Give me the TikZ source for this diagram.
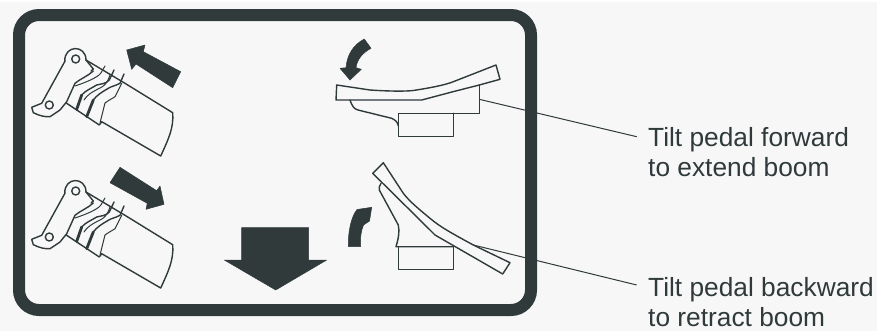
\documentclass[tikz,border=0pt]{standalone}
\usepackage{fontspec}
\setmainfont{Liberation Sans}
\definecolor{ink}{HTML}{303A3B}
\definecolor{paper}{HTML}{F7F7F7}
\tikzset{
  frame/.style={draw=ink,line width=12pt,rounded corners=20pt},
  solidarrow/.style={fill=ink,draw=ink,line width=0.5pt,line join=round},
  outline/.style={draw=ink,line width=1.4pt,line join=round,line cap=round},
  fine/.style={draw=ink,line width=1pt,line join=round,line cap=round},
  thick line/.style={draw=ink,line width=2.8pt,line cap=round},
  leader/.style={draw=ink,line width=1pt},
  caption/.style={anchor=north west,align=left,inner sep=0pt,text=ink,font=\fontsize{26.3}{30}\selectfont},
  pics/boom/.style={code={
    % bracket
    \draw[outline] (49.3,105) circle (4);
    \draw[outline] (75.7,59) circle (4);
    \draw[outline] (86,60) .. controls (86,44.5) and (64,44.5) .. (64.8,61.5);
    \draw[outline] (64.8,61.5) -- (41.7,103.3) -- (31.7,107.3) -- (33.3,112.7)
       .. controls (40,116) and (45,117) .. (50,116.7) -- (60,110) -- (66.7,101.7) -- (75,83.3)
       .. controls (80,79) and (88,76) .. (93.3,71);
    \draw[outline] (86,60) -- (93.3,69) -- (91,71);
    \draw[outline] (86,60) -- (125,83.3) -- (172.7,112.7)
       .. controls (174,128) and (168,140) .. (160.7,156) -- (101.7,121.7) -- (99.3,125) -- (66.7,103.3);
    % bellows
    \draw[fine] (105,66) -- (100.7,73.3) .. controls (97,78) and (84,83) .. (75,86);
    \draw[outline] (114,70) -- (109.3,80) .. controls (106,84) and (100,84) .. (96.7,85)
       .. controls (90,89) and (85,91) .. (81.7,95);
    \draw[thick line] (81.7,95) -- (76.7,109.3);
    \draw[outline] (124,74) -- (120,83.3) .. controls (115,86) and (112,86) .. (108.3,88.3)
       .. controls (102,92) and (97,95) .. (93.3,100);
    \draw[thick line] (93.3,100) -- (86.7,116.7);
    \draw[fine] (110,75) .. controls (107,84) and (104,86) .. (100,88)
       .. controls (92,92) and (87,95) .. (84,100);
    \draw[fine] (121.7,83.3) -- (115,96.7) .. controls (110,100) and (107,101) .. (105,103) -- (100,123);
  }}
}
\begin{document}
\begin{tikzpicture}[x=1pt,y=-1pt]
  \useasboundingbox (0,0) rectangle (877,333);
  \fill[white] (0,0) rectangle (877,333);
  \fill[paper] (0,2) rectangle (877,331);

  % leader lines (behind the frame)
  \coordinate (tipA) at (479.3,99.3);
  \coordinate (endA) at (636.7,136.7);
  \coordinate (tipB) at (473.3,245);
  \coordinate (endB) at (636.7,285);
  \draw[leader] (tipA) -- (endA);
  \draw[leader] (tipB) -- (endB);

  % frame
  \draw[frame] (19,15) rectangle (531,310);

  % booms
  \pic {boom};
  \pic[yshift=-132pt] {boom};

  % straight arrows
  \fill[solidarrow] (126.7,50) -- (145,45) -- (143.3,51.7) -- (180.7,71.7) -- (172.7,87.7) -- (136,64) -- (131.7,69.3) -- cycle;
  \fill[solidarrow] (120,167.3) -- (110,182.7) -- (147.3,203.3) -- (146,209.3) -- (164,204.3) -- (160,186) -- (156.7,190.7) -- cycle;
  \fill[solidarrow] (241.7,227.7) -- (308.7,227.7) -- (308.7,260) -- (326.7,260) -- (275.7,290) -- (224.3,260) -- (241.7,260) -- cycle;

  % curved arrows
  \fill[solidarrow] (350,80) -- (361.3,69.3) -- (356,67.7) .. controls (357,60) and (362,53) .. (371,48.3) -- (364.3,39)
     .. controls (353,45) and (347,55) .. (346,67.7) -- (340,68.3) -- cycle;
  \fill[solidarrow] (371.7,207.3) -- (357,209.5) .. controls (351,217) and (348,232) .. (348.3,246.7) -- (360.7,246.5)
     .. controls (360,238) and (361,231) .. (363.5,225) -- (369.5,221) -- cycle;

  % upper pedal
  \draw[outline] (336.7,85) -- (370,90) .. controls (385,91) and (400,91.5) .. (411.7,90.7)
     .. controls (430,88) and (445,85) .. (453.3,81.7) -- (496,65) -- (500,79.3) -- (479.3,85)
     -- (453,91.7) -- (421.7,100) -- (336,100) -- cycle;
  \draw[outline] (479.3,85) -- (479.3,113.3) -- (398.3,113.3) -- (398.3,136.7) -- (453.3,136.7) -- (453.3,113.3);
  \draw[outline] (350,100) .. controls (352,106) and (354,109) .. (358,110) -- (391.7,118.3)
     .. controls (395,120) and (398,122) .. (398.3,126);

  % lower pedal
  \draw[outline] (383.3,162.7) -- (372.7,173.3) -- (430,230) -- (435,235) -- (502.7,274) -- (510,262.7) -- (473.3,245)
     .. controls (455,235) and (440,227) .. (430,218.3) .. controls (420,210) and (410,202) .. (403.3,193.3) -- cycle;
  \draw[outline] (381,183.3) .. controls (379,186) and (379,188) .. (379.3,190) -- (398.3,225)
     .. controls (400,232) and (398,240) .. (396,246.7) -- (453.3,246.7);
  \draw[outline] (398.3,246.7) -- (398.3,269.3) -- (453.3,269.3) -- (453.3,246.7);

  % captions
  \node[caption] (labelA) at (648,127) {Tilt pedal forward\\to extend boom};
  \node[caption] (labelB) at (648,277) {Tilt pedal backward\\to retract boom};
\end{tikzpicture}
\end{document}
